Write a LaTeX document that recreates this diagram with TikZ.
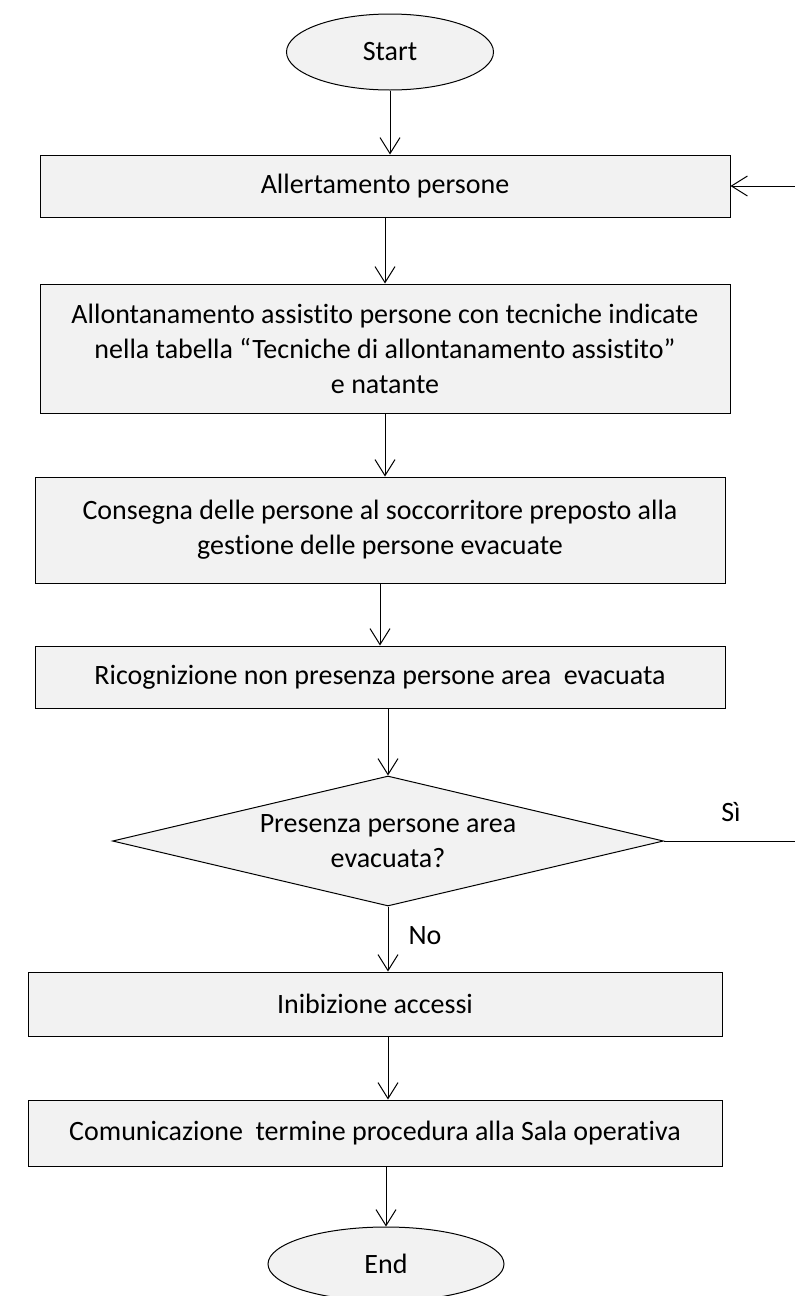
\documentclass[tikz,border=0pt]{standalone}
\usepackage{fontspec}
\setmainfont{Carlito}[Ligatures=NoCommon]
\usetikzlibrary{arrows.meta,shapes.geometric}
\definecolor{boxfill}{HTML}{F2F2F2}
\begin{document}
\begin{tikzpicture}[x=1pt,y=-1pt,
  every node/.style={font=\fontsize{28}{35}\selectfont},
  procbox/.style={draw=black,line width=1pt,fill=boxfill,rectangle,inner sep=0pt,align=center},
  term/.style={draw=black,line width=1pt,fill=boxfill,ellipse,inner sep=0pt},
  decis/.style={draw=black,line width=1pt,fill=boxfill,diamond,inner sep=0pt,align=center,minimum width=551pt,minimum height=130pt,aspect=4.23},
  arr/.style={line width=1pt,-{Straight Barb[length=16pt,width=20pt,line width=1pt]}},
  lbl/.style={inner sep=0pt}]
\useasboundingbox (0,0) rectangle (795,1296);
\node[term,minimum width=207pt,minimum height=76pt] (start) at (390,52) {Start};
\node[procbox,minimum width=690pt,minimum height=62pt] (b1) at (385,186) {Allertamento persone};
\node[procbox,minimum width=690pt,minimum height=129pt] (b2) at (385,348.5) {Allontanamento assistito persone con tecniche indicate\\nella tabella “Tecniche di allontanamento assistito”\\e natante};
\node[procbox,minimum width=690pt,minimum height=106pt] (b3) at (380,530) {Consegna delle persone al soccorritore preposto alla\\gestione delle persone evacuate};
\node[procbox,minimum width=690pt,minimum height=62pt] (b4) at (380,677) {Ricognizione non presenza persone area\ \ evacuata};
\node[decis] (dia) at (388,841) {Presenza persone area\\evacuata?};
\node[procbox,minimum width=694pt,minimum height=64pt] (b5) at (375,1004) {Inibizione accessi};
\node[procbox,minimum width=694pt,minimum height=66pt] (b6) at (375,1133) {Comunicazione\ \ termine procedura alla Sala operativa};
\node[term,minimum width=236pt,minimum height=74pt] (end) at (386,1264) {End};
\node[lbl] (si) at (731,812) {Sì};
\node[lbl] (no) at (425,936) {No};
\draw[arr] (start.south) -- (start.south |- b1.north);
\draw[arr] (b1.south) -- (b1.south |- b2.north);
\draw[arr] (b2.south) -- (b2.south |- b3.north);
\draw[arr] (b3.south) -- (b3.south |- b4.north);
\draw[arr] (b4.south -| dia.north) -- (dia.north);
\draw[arr] (dia.south) -- (dia.south |- b5.north);
\draw[arr] (b5.south -| dia.south) -- (dia.south |- b6.north);
\draw[arr] (b6.south -| end.north) -- (end.north);
\coordinate (loopc) at (802,841);
\draw[arr] (dia.east) -- (loopc) |- (b1.east);
\end{tikzpicture}
\end{document}
